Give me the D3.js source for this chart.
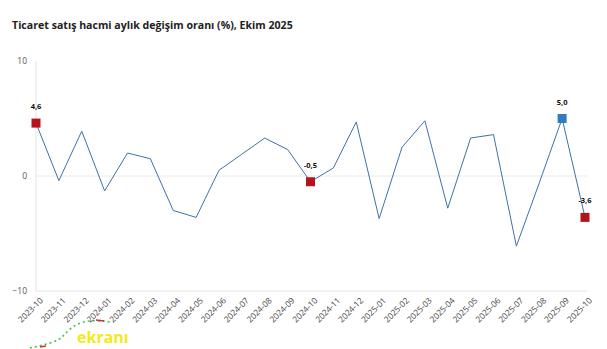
<!DOCTYPE html>
<html><head><meta charset="utf-8">
<script src="https://cdn.jsdelivr.net/npm/d3@7"></script>
<style>
html,body{margin:0;padding:0;background:#fff;}
svg{display:block;font-family:"Open Sans","Noto Sans",sans-serif;}
</style></head>
<body><svg id="c" width="607" height="349"></svg>
<script>
const title = "Ticaret satış hacmi aylık değişim oranı (%), Ekim 2025";
const months = ["2023-10","2023-11","2023-12","2024-01","2024-02","2024-03","2024-04","2024-05","2024-06","2024-07","2024-08","2024-09","2024-10","2024-11","2024-12","2025-01","2025-02","2025-03","2025-04","2025-05","2025-06","2025-07","2025-08","2025-09","2025-10"];
const values = [4.6,-0.4,3.9,-1.3,2.0,1.5,-3.0,-3.6,0.5,1.9,3.3,2.3,-0.5,0.7,4.7,-3.7,2.5,4.8,-2.8,3.3,3.6,-6.1,-0.6,5.0,-3.6];
const yTicks = [-10,0,10];
const highlighted = [
  {month:"2023-10", label:"4,6", kind:"low"},
  {month:"2024-10", label:"-0,5", kind:"low"},
  {month:"2025-09", label:"5,0", kind:"high"},
  {month:"2025-10", label:"-3,6", kind:"low"}
];
const markerColors = {low:"#b5141c", high:"#2f7cc0"};

const svg = d3.select("#c");
const x = d3.scalePoint().domain(months).range([36, 585]);
const y = d3.scaleLinear().domain([-10, 10]).range([291, 61]);

svg.append("text").attr("x", 12).attr("y", 29)
  .attr("font-size", 10.6).attr("font-weight", 700).attr("fill", "#222")
  .text(title);

// axis line and grid
svg.append("line").attr("x1", x(months[0])).attr("x2", x(months[0]))
  .attr("y1", y(10)).attr("y2", y(-10)).attr("stroke", "#e3e3e3");
svg.append("line").attr("x1", 36).attr("x2", 587)
  .attr("y1", y(0)).attr("y2", y(0)).attr("stroke", "#eaeaea");
svg.append("line").attr("x1", 36).attr("x2", 587)
  .attr("y1", y(-10)).attr("y2", y(-10)).attr("stroke", "#e3e3e3");

const yAxis = svg.append("g").attr("transform", "translate(36,0)")
  .call(d3.axisLeft(y).tickValues(yTicks).tickSize(0).tickPadding(9));
yAxis.select(".domain").remove();
yAxis.selectAll("text").attr("font-size", 8.5).attr("fill", "#555")
  .attr("font-family", "'Open Sans',sans-serif");

const xAxis = svg.append("g").attr("transform", `translate(0,${y(-10)})`)
  .call(d3.axisBottom(x).tickSize(0).tickPadding(0));
xAxis.select(".domain").remove();
xAxis.selectAll("text")
  .attr("font-size", 8.3).attr("fill", "#444")
  .attr("font-family", "'Open Sans',sans-serif")
  .attr("text-anchor", "end")
  .attr("dy", "0.35em")
  .attr("transform", "translate(5,8) rotate(-45)");

// line
svg.append("path").datum(values)
  .attr("fill", "none").attr("stroke", "#3f72a8").attr("stroke-width", 1)
  .attr("d", d3.line().x((d, i) => x(months[i])).y(d => y(d)));

// markers
const ms = 9;
highlighted.forEach(h => {
  const i = months.indexOf(h.month);
  const cx = x(h.month), cy = y(values[i]);
  svg.append("rect").attr("x", cx - ms/2).attr("y", cy - ms/2)
    .attr("width", ms).attr("height", ms).attr("fill", markerColors[h.kind]);
  svg.append("text").attr("x", cx).attr("y", cy - 14)
    .attr("text-anchor", "middle").attr("font-size", 7.5).attr("font-weight", 700)
    .attr("fill", "#111").text(h.label);
});

// watermark
const wm = svg.append("g");
const arc = d3.line().curve(d3.curveBasis)([[30,348],[52,343],[62,338],[68,330],[80,322],[95,320],[110,322]]);
wm.append("path").attr("d", arc).attr("fill", "none").attr("stroke", "#3cbf5a")
  .attr("stroke-width", 1.6).attr("stroke-dasharray", "2,3");
wm.append("path").attr("d", d3.line()([[96,320],[104,321]])).attr("stroke", "#d03030").attr("stroke-width", 1.6);
wm.append("path").attr("d", d3.line()([[40,347],[46,346]])).attr("stroke", "#d03030").attr("stroke-width", 1.6);
wm.append("text").attr("x", 77).attr("y", 343).attr("font-size", 16).attr("font-weight", 700)
  .attr("fill", "#f2ea1c").attr("font-family", "'Open Sans',sans-serif").text("ekranı");
</script></body></html>
